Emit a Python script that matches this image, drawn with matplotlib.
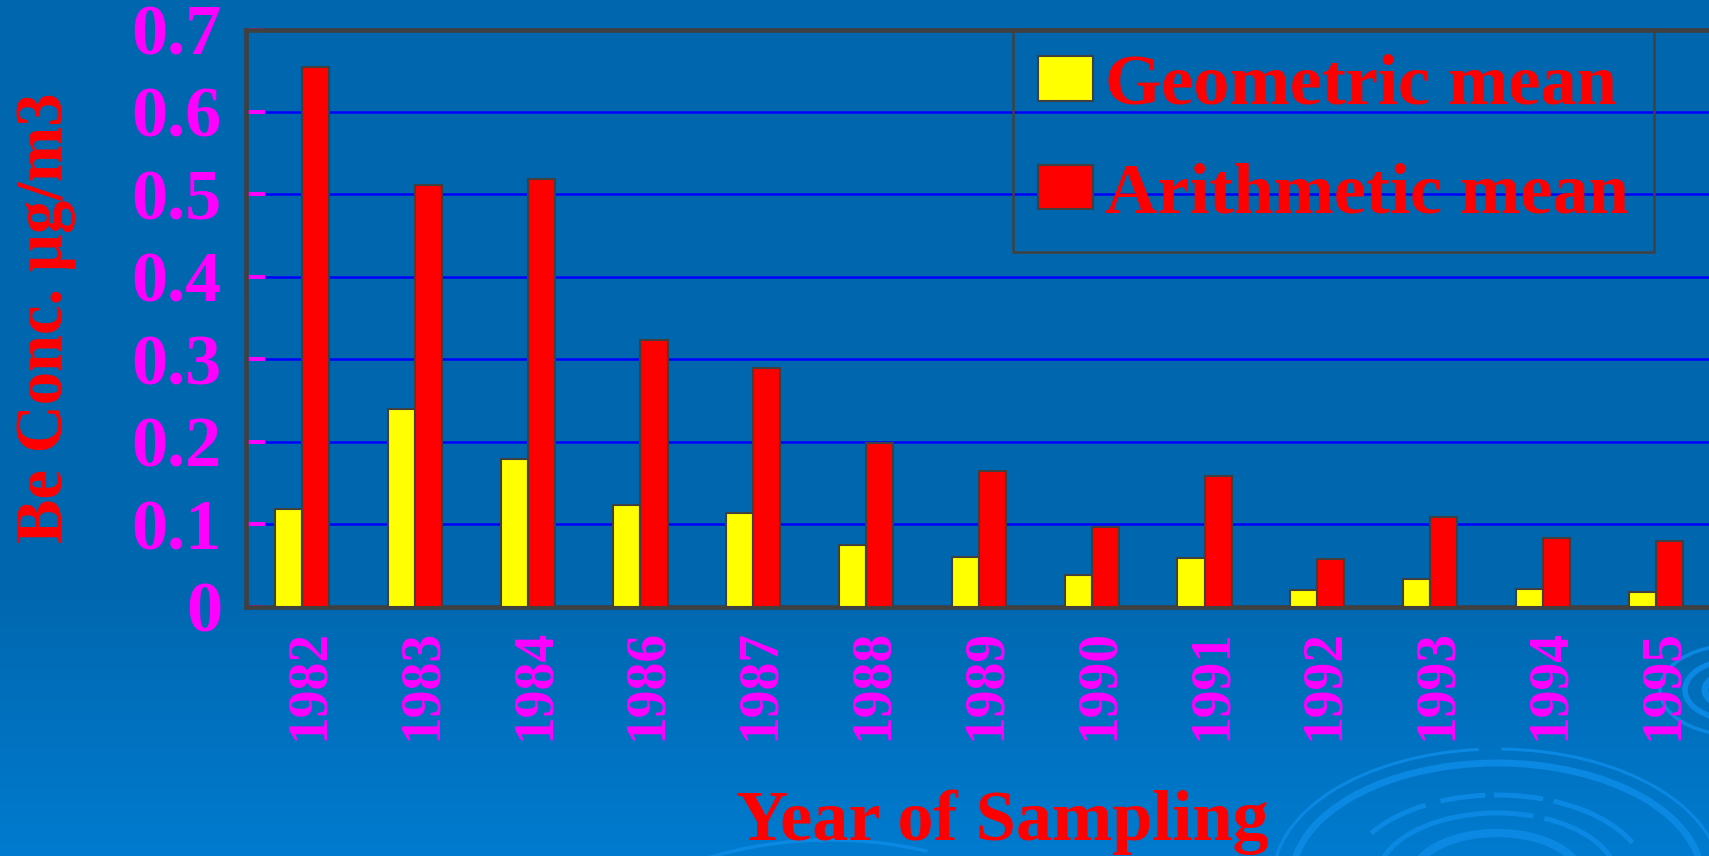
import numpy as np
import matplotlib.pyplot as plt
import matplotlib.transforms as mtransforms
from matplotlib.patches import Arc

plt.rcParams["font.family"] = ["Liberation Serif", "DejaVu Serif"]
plt.rcParams["font.weight"] = "bold"
plt.rcParams["axes.labelweight"] = "bold"

# Be concentration per sampling year (ug/m3)
years = ["1982", "1983", "1984", "1986", "1987", "1988", "1989",
         "1990", "1991", "1992", "1993", "1994", "1995"]
geometric_mean = [0.119, 0.240, 0.179, 0.123, 0.114, 0.075, 0.060,
                  0.039, 0.059, 0.020, 0.034, 0.021, 0.018]
arithmetic_mean = [0.655, 0.512, 0.519, 0.323, 0.290, 0.199, 0.165,
                   0.097, 0.158, 0.058, 0.109, 0.083, 0.080]
yticks = [0, 0.1, 0.2, 0.3, 0.4, 0.5, 0.6, 0.7]
ytick_labels = ["0", "0.1", "0.2", "0.3", "0.4", "0.5", "0.6", "0.7"]

RED = "#FF0000"
YELLOW = "#FFFF00"
MAGENTA = "#FF00FF"
EDGE = "#404040"
SWIRL = "#0A88E2"

W, H = 1709, 856
fig = plt.figure(figsize=(W / 100, H / 100), dpi=100)

# slide background: blue gradient with swirl decoration
bg = fig.add_axes([0, 0, 1, 1], zorder=-1)
bg.set_xlim(0, W)
bg.set_ylim(H, 0)
bg.axis("off")
rows = np.arange(H)
stops = [0, 600, H]
grad = np.stack([
    np.interp(rows, stops, [0, 0, 0]),
    np.interp(rows, stops, [102, 104, 123]),
    np.interp(rows, stops, [173, 176, 207]),
], axis=-1)[:, None, :] / 255
bg.imshow(grad, extent=(0, W, H, 0), aspect="auto")

cx, cy = 1497, 879
swirl = [
    (448, 260, 180, 262, 2.2),
    (448, 260, 272, 360, 2.2),
    (410, 232, 180, 360, 5.0),
    (300, 168, 200, 226, 3.6),
    (300, 168, 234, 262, 3.6),
    (300, 168, 268, 300, 3.6),
    (300, 168, 306, 345, 3.6),
    (240, 132, 185, 300, 3.6),
    (240, 132, 308, 355, 3.6),
    (170, 92, 180, 360, 6.0),
]
for w, h, t1, t2, lw in swirl:
    bg.add_patch(Arc((cx, cy), w, h, theta1=t1, theta2=t2,
                     color=SWIRL, lw=lw))
for w, h, lw in [(150, 90, 2.5), (100, 60, 4), (60, 34, 5)]:
    bg.add_patch(Arc((1735, 690), w, h, theta1=120, theta2=250,
                     color=SWIRL, lw=lw))
bg.add_patch(Arc((830, 1020), 560, 360, theta1=228, theta2=300,
                 color=SWIRL, lw=2.5))

# bar chart
ax = fig.add_axes([245.6 / W, 1 - 606.7 / H, 1466.6 / W, 577.2 / H])
ax.patch.set_alpha(0)

x = np.arange(len(years))
bw = 0.24
ax.bar(x - bw / 2, geometric_mean, bw, color=YELLOW, edgecolor=EDGE,
       linewidth=1.5, label="Geometric mean", zorder=3)
ax.bar(x + bw / 2, arithmetic_mean, bw, color=RED, edgecolor=EDGE,
       linewidth=1.5, label="Arithmetic mean", zorder=3)

ax.set_xlim(-0.5, len(years) - 0.5)
ax.set_ylim(0, 0.7)
ax.set_yticks(yticks, labels=ytick_labels)
ax.set_xticks(x, labels=years, rotation=90)

ax.yaxis.grid(True, color="#0000FF", linewidth=1.8)
ax.set_axisbelow(True)

ax.tick_params(axis="y", direction="in", length=13.5, width=2.9,
               color=MAGENTA, labelcolor=MAGENTA, labelsize=52, pad=17)
ax.tick_params(axis="x", length=0, labelcolor=MAGENTA, labelsize=40,
               pad=16)
shift = mtransforms.ScaledTranslation(0.07, 0, fig.dpi_scale_trans)
for lab in ax.get_xticklabels():
    lab.set_transform(lab.get_transform() + shift)

for side in ["left", "top", "bottom", "right"]:
    ax.spines[side].set_color(EDGE)
    ax.spines[side].set_linewidth(3.3)

ax.set_ylabel("Be Conc. µg/m3", color=RED, fontsize=48, fontweight="bold")
ax.yaxis.set_label_coords(-0.1154, 0.5)
ax.set_xlabel("Year of Sampling", color=RED, fontsize=52,
              fontweight="bold", va="baseline")
ax.xaxis.set_label_coords(0.5157, -0.4042)

leg = ax.legend(loc="upper left", bbox_to_anchor=(1013 / W, 1 - 29.4 / H),
                bbox_transform=fig.transFigure, borderaxespad=0,
                fontsize=52, labelcolor=RED, handlelength=0.77,
                handleheight=0.57, handletextpad=0.17, labelspacing=0.6,
                borderpad=0.34, fancybox=False, facecolor="none",
                edgecolor=EDGE, framealpha=1)
leg.get_frame().set_linewidth(1.8)

fig.savefig("out.png", dpi=100)
